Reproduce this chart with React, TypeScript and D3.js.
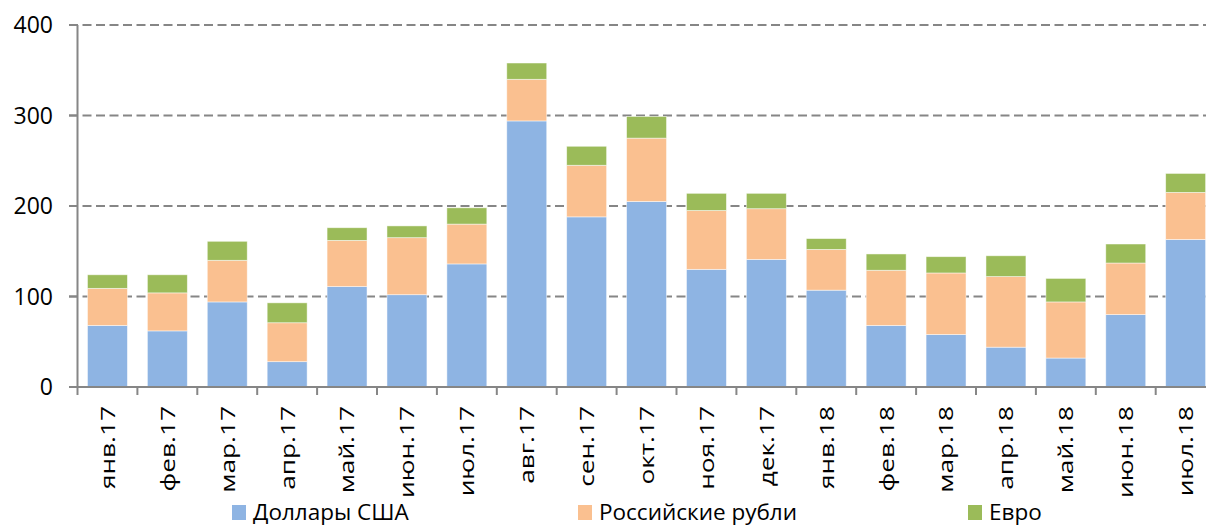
import React from "react";
import * as d3 from "d3";

const categories = ["янв.17","фев.17","мар.17","апр.17","май.17","июн.17","июл.17","авг.17","сен.17","окт.17","ноя.17","дек.17","янв.18","фев.18","мар.18","апр.18","май.18","июн.18","июл.18"];
const usd = [68, 62, 94, 28, 111, 102, 136, 294, 188, 205, 130, 141, 107, 68, 58, 44, 32, 80, 163];
const rub = [41, 42, 46, 43, 51, 63, 44, 46, 57, 70, 65, 56, 45, 61, 68, 78, 62, 57, 52];
const eur = [15, 20, 21, 22, 14, 13, 18, 18, 21, 24, 19, 17, 12, 18, 18, 23, 26, 21, 21];
const seriesNames = ["Доллары США", "Российские рубли", "Евро"];
const seriesColors = ["#8EB4E3", "#FAC090", "#9BBB59"];
const yTicks = [0, 100, 200, 300, 400];

const W = 1206, H = 526;
const left = 77.5, top = 25, bottom = 387;
const step = 59.9;
const right = left + step * categories.length;
const FONT = "'Open Sans', 'Liberation Sans', sans-serif";

export default function App() {
  const x = d3.scaleBand<string>().domain(categories).range([left, right]).paddingInner(0.333).paddingOuter(0.1665);
  const y = d3.scaleLinear().domain([0, 400]).range([bottom, top]);
  const rows = categories.map((c, i) => ({ cat: c, usd: usd[i], rub: rub[i], eur: eur[i] }));
  const stack = d3.stack<any>().keys(["usd", "rub", "eur"])(rows);
  const legendX = [232, 578, 968];

  return (
    <svg width={W} height={H} style={{ position: "absolute", left: 0, top: 0, background: "#fff" }}>
      {yTicks.filter(t => t > 0).map(t => (
        <line key={"g" + t} x1={69} x2={W} y1={y(t)} y2={y(t)} stroke="#868686" strokeWidth={2} strokeDasharray="9,4.5" />
      ))}
      {stack.map((s, si) => (
        <g key={si} fill={seriesColors[si]}>
          {s.map((d, i) => (
            <rect key={i} x={x(categories[i])} width={x.bandwidth()} y={y(d[1])} height={y(d[0]) - y(d[1])}
              stroke="#ffffff" strokeOpacity={0.6} strokeWidth={0.8} />
          ))}
        </g>
      ))}
      <line x1={left} x2={left} y1={top} y2={bottom} stroke="#868686" strokeWidth={2} />
      <line x1={left} x2={W} y1={bottom} y2={bottom} stroke="#868686" strokeWidth={2} />
      {yTicks.map(t => (
        <g key={"t" + t}>
          <line x1={69} x2={left} y1={y(t)} y2={y(t)} stroke="#868686" strokeWidth={2} />
          <text x={53} y={y(t)} dy="0.36em" textAnchor="end" fontFamily={FONT} fontSize={23} fill="#000">{t}</text>
        </g>
      ))}
      {d3.range(categories.length + 1).map(i => (
        <line key={"xt" + i} x1={left + i * step} x2={left + i * step} y1={bottom} y2={bottom + 8} stroke="#868686" strokeWidth={2} />
      ))}
      {categories.map(c => (
        <text key={c} transform={`translate(${x(c)! + x.bandwidth() / 2},406) rotate(-90) scale(1.28,1)`} textAnchor="end" dy="0.36em"
          fontFamily={FONT} fontSize={20.5} fill="#000">{c}</text>
      ))}
      {seriesNames.map((n, i) => (
        <g key={n}>
          <rect x={legendX[i]} y={505} width={14} height={15} fill={seriesColors[i]} />
          <text x={legendX[i] + 21} y={520} fontFamily={FONT} fontSize={22.5} fill="#000">{n}</text>
        </g>
      ))}
    </svg>
  );
}
